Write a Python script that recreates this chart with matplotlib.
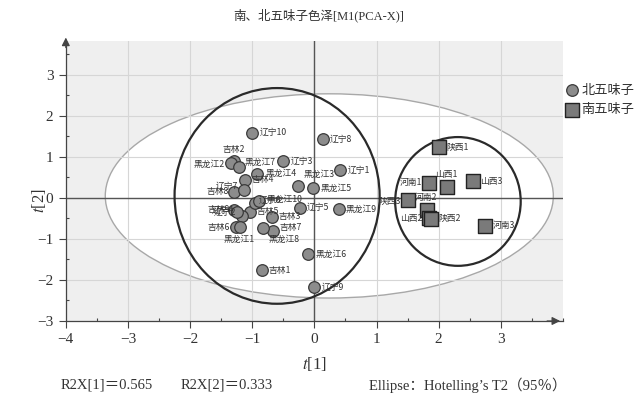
import matplotlib
matplotlib.use("Agg")
import matplotlib.pyplot as plt
from matplotlib.patches import Ellipse
from matplotlib.ticker import MultipleLocator
import numpy as np

plt.rcParams['font.family'] = ['Liberation Serif', 'Noto Sans CJK SC', 'DejaVu Sans']
plt.rcParams['mathtext.fontset'] = 'stix'

# ---------------- data ----------------
north_names = ['吉林1', '吉林2', '吉林3', '吉林4', '吉林5', '吉林6', '吉林7', '吉林8', '吉林9',
               '辽宁1', '辽宁2', '辽宁3', '辽宁4', '辽宁5', '辽宁6', '辽宁7', '辽宁8', '辽宁9', '辽宁10',
               '黑龙江1', '黑龙江2', '黑龙江3', '黑龙江4', '黑龙江5', '黑龙江6', '黑龙江7', '黑龙江8',
               '黑龙江9', '黑龙江10']
north_t1 = [-0.85, -1.29, -0.69, -1.11, -1.03, -1.26, -0.66, -1.30, -1.30,
            0.42, -1.16, -0.50, -1.24, -0.23, -0.95, -1.14, 0.14, 0.00, -1.00,
            -1.19, -1.34, -0.26, -0.92, -0.02, -0.10, -1.22, -0.82, 0.39, -0.89]
north_t2 = [-1.76, 0.90, -0.46, 0.44, -0.34, -0.71, -0.80, 0.15, -0.29,
            0.68, -0.44, 0.90, -0.34, -0.24, -0.12, 0.20, 1.44, -2.17, 1.59,
            -0.71, 0.85, 0.29, 0.59, 0.24, -1.37, 0.76, -0.73, -0.27, -0.07]

south_names = ['陕西1', '河南1', '山西1', '山西3', '陕西3', '河南2', '山西2', '陕西2', '河南3']
south_t1 = [2.01, 1.84, 2.13, 2.56, 1.50, 1.82, 1.84, 1.88, 2.75]
south_t2 = [1.24, 0.37, 0.27, 0.41, -0.05, -0.29, -0.49, -0.51, -0.68]

legend_labels = ['北五味子', '南五味子']
title = '南、北五味子色泽[M1(PCA-X)]'
x_ticks = [-4, -3, -2, -1, 0, 1, 2, 3]
y_ticks = [-3, -2, -1, 0, 1, 2, 3]
r2x1_text = 'R2X[1]＝0.565'
r2x2_text = 'R2X[2]＝0.333'
ellipse_text = 'Ellipse：Hotelling’s T2（95％）'

# ---------------- label placement (pixel offsets; dy positive = downwards) ----------------
right = (7, 0, 'left', 'center')
offsets = {
    '吉林2': (-1, -12, 'center', 'center'),
    '黑龙江2': (-6, 1, 'right', 'center'),
    '黑龙江7': (6, -4, 'left', 'center'),
    '黑龙江4': (8, 0, 'left', 'center'),
    '吉林4': (6, 0, 'left', 'center'),
    '辽宁7': (-5, -3, 'right', 'center'),
    '吉林8': (-5, 0, 'right', 'center'),
    '黑龙江3': (5, -12, 'left', 'center'),
    '黑龙江10': (7, -1, 'left', 'center'),
    '辽宁6': (3, -3, 'left', 'center'),
    '吉林9': (-4, 0, 'right', 'center'),
    '辽宁4': (-3, -2, 'right', 'center'),
    '辽宁2': (-6, -4, 'right', 'center'),
    '吉林5': (6, 0, 'left', 'center'),
    '吉林6': (-6, 0, 'right', 'center'),
    '黑龙江1': (-1, 12, 'center', 'center'),
    '黑龙江8': (5, 11, 'left', 'center'),
    '吉林7': (6, -3, 'left', 'center'),
    '河南1': (-7, 0, 'right', 'center'),
    '山西1': (-1, -12, 'center', 'center'),
    '陕西3': (-7, 1, 'right', 'center'),
    '河南2': (-2, -12, 'center', 'center'),
    '山西2': (-6, 0, 'right', 'center'),
    '陕西2': (7, 0, 'left', 'center'),
}

fig = plt.figure(figsize=(6.39, 4.03), dpi=100)
ax = fig.add_axes([0.103, 0.2035, 0.778, 0.695])
ax.set_facecolor('#efefef')
ax.set_xlim(-4, 4)
ax.set_ylim(-3, 3.83)

# Hotelling ellipse (white filled)
ax.add_patch(Ellipse((0.24, 0.05), 7.21, 4.98, facecolor='white', edgecolor='#a8a8a8',
                     lw=1.0, zorder=0.3))

ax.set_axisbelow(True)
ax.xaxis.set_minor_locator(MultipleLocator(0.5))
ax.yaxis.set_minor_locator(MultipleLocator(0.5))
ax.set_xticks(x_ticks)
ax.set_yticks(y_ticks)
ax.grid(True, which='major', color='#d6d6d6', lw=0.8)
ax.tick_params(which='major', direction='out', length=5, width=0.8, color='#444444',
               labelsize=11, labelcolor='#333333', pad=4)
ax.tick_params(which='minor', direction='in', length=2.5, width=0.8, color='#444444')

for s in ['top', 'right']:
    ax.spines[s].set_visible(False)
for s in ['left', 'bottom']:
    ax.spines[s].set_color('#444444')
    ax.spines[s].set_linewidth(0.9)

# arrows
ax.annotate('', xy=(4.0, -3), xytext=(3.7, -3), xycoords='data',
            arrowprops=dict(arrowstyle='-|>', color='#444444', lw=0.9, mutation_scale=12),
            annotation_clip=False)
ax.annotate('', xy=(-4, 3.98), xytext=(-4, 3.6), xycoords='data',
            arrowprops=dict(arrowstyle='-|>', color='#444444', lw=0.9, mutation_scale=12),
            annotation_clip=False)

# zero lines
ax.axhline(0, color='#555555', lw=1.0, zorder=1)
ax.axvline(0, color='#555555', lw=1.0, zorder=1)

# group circles
ax.add_patch(Ellipse((-0.60, 0.05), 3.30, 5.26, facecolor='none', edgecolor='#2a2a2a',
                     lw=1.6, zorder=2))
ax.add_patch(Ellipse((2.31, -0.085), 2.02, 3.14, facecolor='none', edgecolor='#2a2a2a',
                     lw=1.6, zorder=2))

ax.scatter(north_t1, north_t2, s=70, marker='o', facecolor='#8c8c8c', edgecolor='#3a3a3a',
           linewidth=0.9, zorder=3, label=legend_labels[0])
ax.scatter(south_t1, south_t2, s=90, marker='s', facecolor='#7a7a7a', edgecolor='#222222',
           linewidth=1.0, zorder=3, label=legend_labels[1])

lab_font = ['Noto Sans CJK SC', 'DejaVu Sans']
for names, xs, ys in [(north_names, north_t1, north_t2), (south_names, south_t1, south_t2)]:
    for n, x, y in zip(names, xs, ys):
        dx, dy, ha, va = offsets.get(n, right)
        ax.annotate(n, (x, y), xytext=(dx, -dy), textcoords='offset pixels', ha=ha, va=va,
                    fontsize=6.3, color='#333333', family=lab_font, zorder=4)

ax.set_xlabel('$t$[1]', fontsize=12, color='#333333', labelpad=6)
ax.set_ylabel('$t$[2]', fontsize=12, color='#333333')
ax.yaxis.set_label_coords(-0.036, 0.43)

fig.text(0.4995, 0.962, title, ha='center', va='center', fontsize=9, color='#333333')
fig.text(0.095, 0.045, r2x1_text, ha='left', va='center', fontsize=10.5, color='#333333')
fig.text(0.282, 0.045, r2x2_text, ha='left', va='center', fontsize=10.5, color='#333333')
fig.text(0.577, 0.045, ellipse_text, ha='left', va='center', fontsize=10.5, color='#333333')

leg = ax.legend(loc='upper left', bbox_to_anchor=(0.874, 0.805), bbox_transform=fig.transFigure,
                frameon=False, handletextpad=0.15, labelspacing=0.5,
                borderaxespad=0, handlelength=1.2, prop={'family': lab_font, 'size': 9.5})
for t in leg.get_texts():
    t.set_color('#333333')

fig.savefig('out.png', dpi=100)
